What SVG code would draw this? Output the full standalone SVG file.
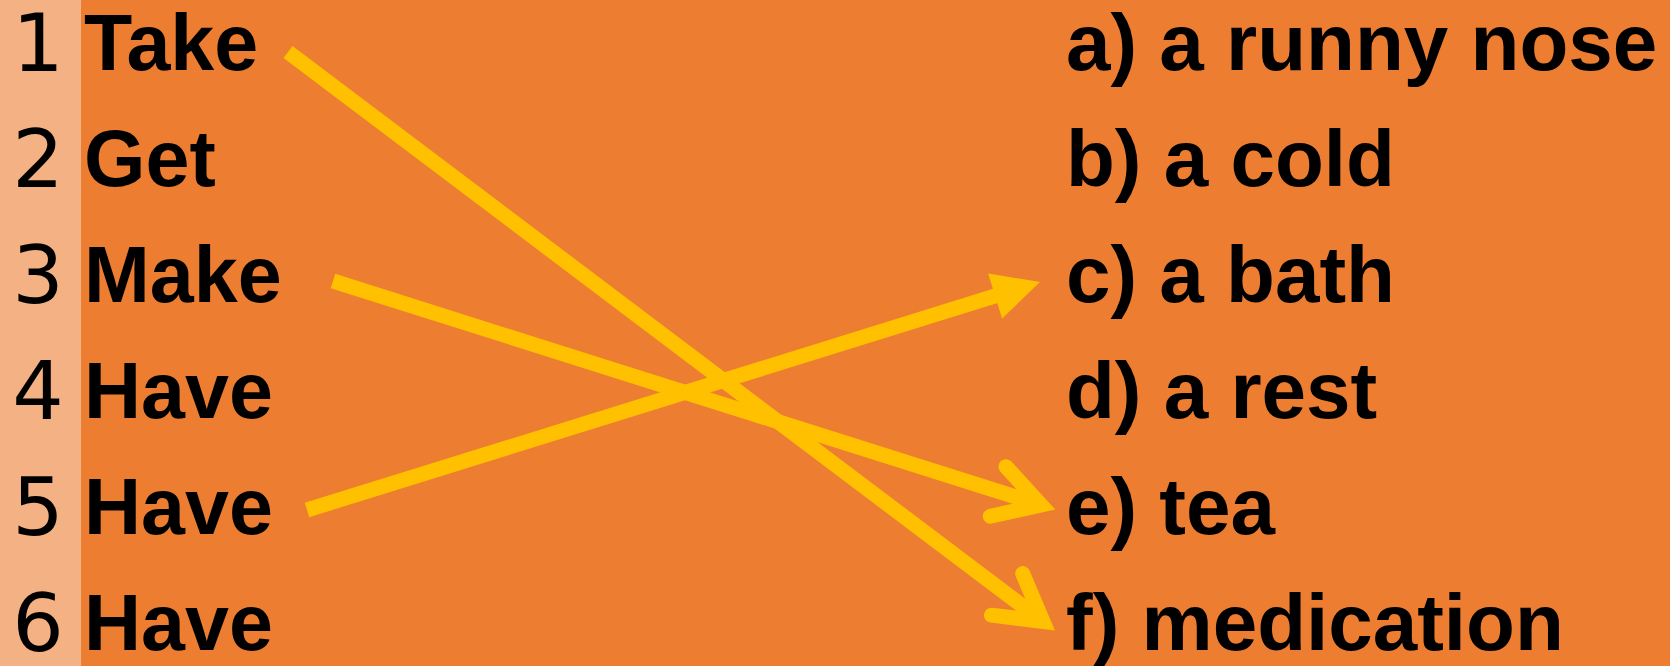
<svg xmlns="http://www.w3.org/2000/svg" width="1670" height="666" viewBox="0 0 1670 666">
  <style>
    .num { font-family: "DejaVu Sans", sans-serif; font-size: 81px; fill: #000; text-anchor: middle; }
    .word { font-family: "Liberation Sans", Arial, sans-serif; font-weight: bold; font-size: 79px; fill: #000; }
    .opt { font-family: "Liberation Sans", Arial, sans-serif; font-weight: bold; font-size: 80px; fill: #000; }
    .conn { stroke: #FFC000; stroke-width: 15; fill: none; stroke-linecap: butt; }
  </style>
  <defs>
    <marker id="chev" markerUnits="userSpaceOnUse" orient="auto" overflow="visible" refX="0" refY="0" markerWidth="1" markerHeight="1">
      <path d="M -45,-26 L 0,0 L -45,26" fill="none" stroke="#FFC000" stroke-width="15" stroke-linecap="round" stroke-linejoin="miter" stroke-miterlimit="10"/>
    </marker>
    <marker id="tri" markerUnits="userSpaceOnUse" orient="auto" overflow="visible" refX="0" refY="0" markerWidth="1" markerHeight="1">
      <path d="M 40,0 L -7,-23.5 L -7,23.5 Z" fill="#FFC000"/>
    </marker>
  </defs>
  <rect x="0" y="0" width="1670" height="666" fill="#ED7D31"/>
  <rect x="0" y="0" width="81" height="666" fill="#F4B183"/>

  <g id="left-1"><text class="num" x="38" y="71">1</text><text class="word" x="84" y="70">Take</text></g>
  <g id="left-2"><text class="num" x="38" y="187">2</text><text class="word" x="84" y="186">Get</text></g>
  <g id="left-3"><text class="num" x="38" y="303">3</text><text class="word" x="84" y="302">Make</text></g>
  <g id="left-4"><text class="num" x="38" y="419">4</text><text class="word" x="84" y="418">Have</text></g>
  <g id="left-5"><text class="num" x="38" y="535">5</text><text class="word" x="84" y="534">Have</text></g>
  <g id="left-6"><text class="num" x="38" y="651">6</text><text class="word" x="84" y="650">Have</text></g>

  <g id="right-a"><text class="opt" x="1066" y="70">a) a runny nose</text></g>
  <g id="right-b"><text class="opt" x="1066" y="186">b) a cold</text></g>
  <g id="right-c"><text class="opt" x="1066" y="302">c) a bath</text></g>
  <g id="right-d"><text class="opt" x="1066" y="418">d) a rest</text></g>
  <g id="right-e"><text class="opt" x="1066" y="534">e) tea</text></g>
  <g id="right-f"><text class="opt" x="1066" y="650">f) medication</text></g>

  <g id="connectors">
    <line class="conn" x1="288" y1="52" x2="1043" y2="621.5" marker-end="url(#chev)"/>
    <line class="conn" x1="333" y1="281" x2="1041" y2="505" marker-end="url(#chev)"/>
    <line class="conn" x1="307" y1="510" x2="1001.8" y2="293.9" marker-end="url(#tri)"/>
  </g>
</svg>
